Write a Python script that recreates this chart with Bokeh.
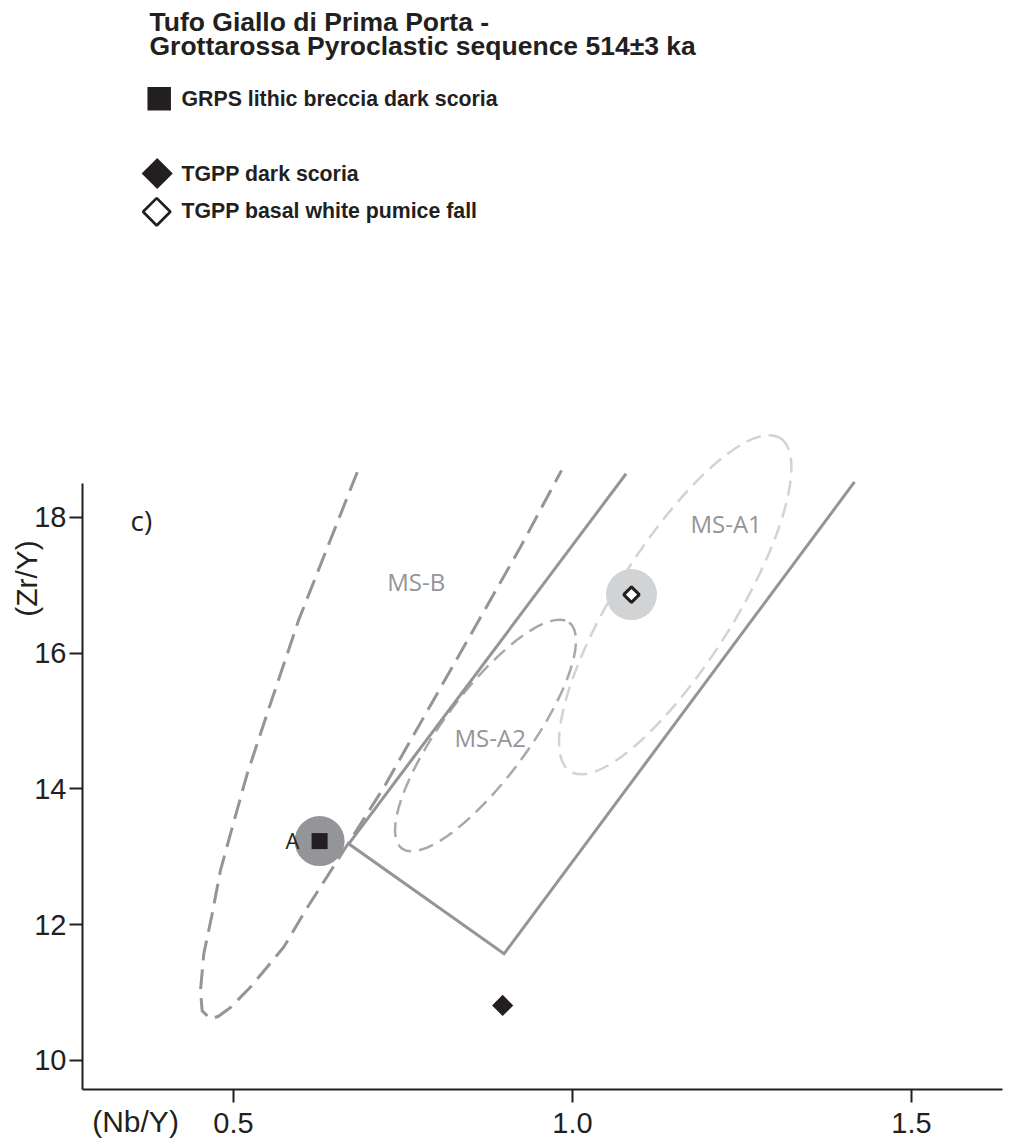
import numpy as np
from bokeh.plotting import figure
from bokeh.models import Range1d, Label, FixedTicker, NumeralTickFormatter, ColumnDataSource
from bokeh.embed import file_html
from bokeh.resources import INLINE

# ---------------- data ----------------
title_lines = ["Tufo Giallo di Prima Porta -", "Grottarossa Pyroclastic sequence 514\u00b13 ka"]
legend_labels = ["GRPS lithic breccia dark scoria", "TGPP dark scoria", "TGPP basal white pumice fall"]
x_title = "(Nb/Y)"
y_title = "(Zr/Y)"
panel_tag = "c)"

x_ticks = [0.5, 1.0, 1.5]
y_ticks = [10, 12, 14, 16, 18]

# samples
grps_x = [0.627]
grps_y = [13.23]
tgpp_scoria_x = [0.897]
tgpp_scoria_y = [10.81]
tgpp_pumice_x = [1.087]
tgpp_pumice_y = [16.86]

# solid field boundary
field_x = [1.079, 0.670, 0.899, 1.416]
field_y = [18.64, 13.19, 11.57, 18.52]

# MS-B dashed envelope
msb_x = [0.6825, 0.5959, 0.5497, 0.5202, 0.4956, 0.4808, 0.4686, 0.4562, 0.4513, 0.4538,
         0.4661, 0.4779, 0.4956, 0.5251, 0.5742, 0.6062, 0.6530, 0.7217, 0.9233, 0.9838]
msb_y = [18.663, 16.48, 15.11, 14.22, 13.34, 12.80, 12.16, 11.57, 11.03, 10.73,
         10.61, 10.65, 10.78, 11.08, 11.67, 12.21, 12.94, 14.02, 17.56, 18.69]

# MS-A1 and MS-A2 ellipses
ms_cx = [1.1515, 0.8717]
ms_cy = [16.711, 14.785]
ms_w = [0.581, 0.4145]
ms_h = [1.738, 1.267]
ms_angle = [57.8, 53.5]

# field labels
field_label_text = ["MS-B", "MS-A2", "MS-A1"]
field_label_x = [0.7267, 0.826, 1.174]
field_label_y = [16.92, 14.623, 17.779]
point_label_text = "A"
point_label_x = 0.5767
point_label_y = 13.116

# ---------------- style / layout ----------------
DARK = "#231f20"
GRAY = "#939598"
MIDGRAY = "#a7a9ac"
LIGHT = "#d1d3d4"

W = 1011
H = 1144
PAGE_L, PAGE_T = 0, 0              # canvas origin in picture pixels
XPX, X_REF_VAL, X_REF_PX = 678.0, 0.5, 233.0   # x scale calibration
YPX, Y_REF_VAL, Y_REF_PX = 67.9, 18.0, 516.7   # y scale calibration
X_LO = X_REF_VAL - (X_REF_PX - PAGE_L) / XPX
X_HI = X_REF_VAL + (PAGE_L + W - X_REF_PX) / XPX
Y_HI = Y_REF_VAL + (Y_REF_PX - PAGE_T) / YPX
Y_LO = Y_REF_VAL - (PAGE_T + H - Y_REF_PX) / YPX
X_AXIS_AT = Y_REF_VAL - (1089 - Y_REF_PX) / YPX   # data y of x-axis line
Y_AXIS_AT = X_REF_VAL - (X_REF_PX - 82) / XPX     # data x of y-axis line
X_AXIS_END = X_REF_VAL + (1002 - X_REF_PX) / XPX
Y_AXIS_END = Y_REF_VAL + (Y_REF_PX - 482.7) / YPX
FIX_LIB = 8   # baseline correction (px) for Liberation Sans labels
FIX_OS = 9    # baseline correction (px) for Open Sans labels


def sx(px):  # picture x -> canvas screen x
    return px - PAGE_L


def sy(py):  # picture y -> canvas screen y (from bottom)
    return PAGE_T + H - py


p = figure(width=W, height=H, x_range=Range1d(X_LO, X_HI), y_range=Range1d(Y_LO, Y_HI),
           output_backend="svg", toolbar_location=None, min_border=0)
p.extra_x_ranges = {"px": Range1d(PAGE_L, PAGE_L + W)}
p.extra_y_ranges = {"px": Range1d(PAGE_T + H, PAGE_T)}
p.xgrid.visible = False
p.ygrid.visible = False
p.outline_line_color = None

# axes (fixed inside the canvas)
p.xaxis.ticker = FixedTicker(ticks=x_ticks)
p.yaxis.ticker = FixedTicker(ticks=y_ticks)
p.xaxis.formatter = NumeralTickFormatter(format="0.0")
p.yaxis.formatter = NumeralTickFormatter(format="0")
for ax in (p.xaxis[0], p.yaxis[0]):
    ax.axis_line_width = 2
    ax.axis_line_color = DARK
    ax.major_tick_line_width = 2
    ax.major_tick_line_color = DARK
    ax.major_tick_in = 0
    ax.major_tick_out = 13
    ax.minor_tick_line_color = None
    ax.major_label_text_font = "Liberation Sans"
    ax.major_label_text_font_size = "29px"
    ax.major_label_text_color = DARK
p.xaxis.fixed_location = X_AXIS_AT
p.yaxis.fixed_location = Y_AXIS_AT
p.xaxis.bounds = (Y_AXIS_AT, X_AXIS_END)
p.yaxis.bounds = (X_AXIS_AT, Y_AXIS_END)
p.xaxis.major_label_standoff = 10
p.yaxis.major_label_standoff = 3

# ---------------- title + legend ----------------
for txt, yb in zip(title_lines, [29.5, 53.3]):
    p.add_layout(Label(x=sx(149), y=sy(yb) + FIX_LIB, x_units="screen", y_units="screen", text=txt,
                       text_font="Liberation Sans", text_font_style="bold",
                       text_font_size="26.5px", text_color=DARK, text_baseline="alphabetic"))

p.scatter([158.7], [98.3], x_range_name="px", y_range_name="px", marker="square", size=23.5,
          fill_color=DARK, line_color=None)
p.scatter([156.7], [173], x_range_name="px", y_range_name="px", marker="square", angle=45,
          angle_units="deg", size=22, fill_color=DARK, line_color=None)
p.scatter([156.2], [211.3], x_range_name="px", y_range_name="px", marker="square", angle=45,
          angle_units="deg", size=19.3, fill_color="white", line_color=DARK, line_width=2.7)
for txt, yb in zip(legend_labels, [106, 181, 218.3]):
    p.add_layout(Label(x=sx(181), y=sy(yb) + FIX_LIB, x_units="screen", y_units="screen", text=txt,
                       text_font="Liberation Sans", text_font_style="bold",
                       text_font_size="21.3px", text_color=DARK, text_baseline="alphabetic"))

# ---------------- plot content ----------------
# highlight discs
p.scatter(grps_x, grps_y, marker="circle", size=50, fill_color=GRAY, line_color=None)
p.scatter(tgpp_pumice_x, tgpp_pumice_y, marker="circle", size=51, fill_color=LIGHT, line_color=None)

# fields
ell = ColumnDataSource(dict(x=ms_cx, y=ms_cy, w=ms_w, h=ms_h, a=ms_angle, c=[LIGHT, MIDGRAY]))
p.ellipse(x="x", y="y", width="w", height="h", angle="a", angle_units="deg", source=ell,
          fill_color=None, line_color="c", line_width=2.5, line_dash="15 8")
p.line(msb_x, msb_y, line_color=GRAY, line_width=3, line_dash="20 9")
p.line(field_x, field_y, line_color=GRAY, line_width=3, line_join="miter")

# sample markers
p.scatter(grps_x, grps_y, marker="square", size=16, fill_color=DARK, line_color=None)
p.scatter(tgpp_scoria_x, tgpp_scoria_y, marker="square", angle=45, angle_units="deg", size=15,
          fill_color=DARK, line_color=None)
p.scatter(tgpp_pumice_x, tgpp_pumice_y, marker="square", angle=45, angle_units="deg", size=11,
          fill_color="white", line_color=DARK, line_width=3)

# field labels
for txt, fx, fy in zip(field_label_text, field_label_x, field_label_y):
    p.add_layout(Label(x=fx, y=fy, y_offset=FIX_OS, text=txt, text_font="Open Sans",
                       text_font_size="24px", text_color=GRAY, text_baseline="alphabetic"))
p.add_layout(Label(x=point_label_x, y=point_label_y, y_offset=FIX_OS, text=point_label_text,
                   text_font="Open Sans", text_font_size="22px", text_color=DARK,
                   text_baseline="alphabetic"))
p.add_layout(Label(x=sx(130), y=sy(528) + FIX_OS, x_units="screen", y_units="screen", text=panel_tag,
                   text_font="Open Sans", text_font_size="28px", text_color=DARK,
                   text_baseline="alphabetic"))

# axis titles
p.add_layout(Label(x=sx(26), y=sy(578), x_units="screen", y_units="screen", text=y_title,
                   angle=np.pi / 2, text_align="center", text_baseline="middle",
                   text_font="Liberation Sans", text_font_size="30px", text_color=DARK))
p.add_layout(Label(x=sx(91.7), y=sy(1129) + FIX_LIB, x_units="screen", y_units="screen", text=x_title,
                   text_baseline="alphabetic", text_font="Liberation Sans",
                   text_font_size="30px", text_color=DARK))

open("out.html", "w").write(file_html(p, INLINE))
